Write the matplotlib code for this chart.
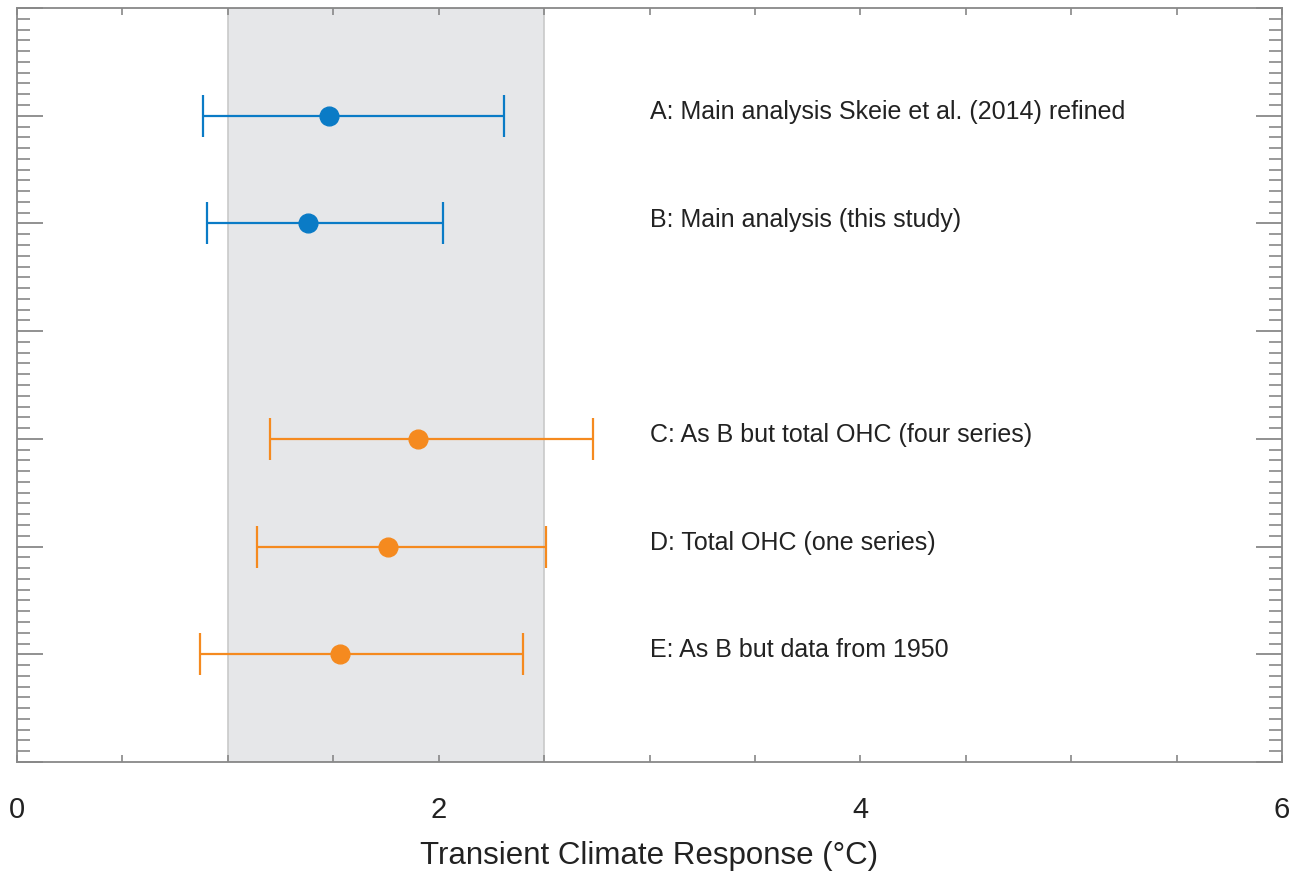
import numpy as np
import matplotlib.pyplot as plt
from matplotlib.ticker import MultipleLocator, NullFormatter

plt.rcParams['font.family'] = ['Liberation Sans', 'DejaVu Sans']

# TCR estimates (best, low, high) per analysis
labels = ["A: Main analysis Skeie et al. (2014) refined",
          "B: Main analysis (this study)",
          "C: As B but total OHC (four series)",
          "D: Total OHC (one series)",
          "E: As B but data from 1950"]
rows = [1, 2, 4, 5, 6]
best = [1.48, 1.38, 1.90, 1.76, 1.53]
low = [0.88, 0.90, 1.20, 1.14, 0.87]
high = [2.31, 2.02, 2.73, 2.51, 2.40]
colors = ['#0a7bc6', '#0a7bc6', '#f58a1f', '#f58a1f', '#f58a1f']
likely_range = (1.0, 2.5)

fig = plt.figure(figsize=(13, 8.78), dpi=100)
ax = fig.add_axes([0.0131, 0.131, 0.9731, 0.8587])

ax.axvspan(*likely_range, facecolor='#e6e7e9', edgecolor='#c9c9c9', lw=1.2, zorder=0)

for y, b, lo, hi, c, lab in zip(rows, best, low, high, colors, labels):
    ax.errorbar(b, y, xerr=[[b - lo], [hi - b]], fmt='o', color=c, ms=13.5,
                elinewidth=1.6, capsize=15, capthick=1.6, zorder=3)
    ax.text(3.0, y + 0.02, lab, fontsize=18, va='baseline', ha='left', color='#222222')

ax.set_xlim(0, 6)
ax.set_ylim(7, 0)
ax.xaxis.set_major_locator(MultipleLocator(2))
ax.xaxis.set_minor_locator(MultipleLocator(0.5))
ax.yaxis.set_major_locator(MultipleLocator(1))
ax.yaxis.set_minor_locator(MultipleLocator(0.1))
ax.yaxis.set_major_formatter(NullFormatter())

ax.tick_params(which='both', direction='in', top=True, right=True, color='#888888')
ax.tick_params(axis='y', which='major', length=19, width=1.3)
ax.tick_params(axis='y', which='minor', length=9.5, width=1.2)
ax.tick_params(axis='x', which='both', length=5, width=1.2)
ax.tick_params(axis='x', which='major', labelsize=21, pad=24, labelcolor='#222222')
for s in ax.spines.values():
    s.set_color('#888888')
    s.set_linewidth(1.3)

ax.set_xlabel("Transient Climate Response (\u00b0C)", fontsize=22.5, labelpad=12, color='#222222')

fig.savefig('out.png', dpi=100)
